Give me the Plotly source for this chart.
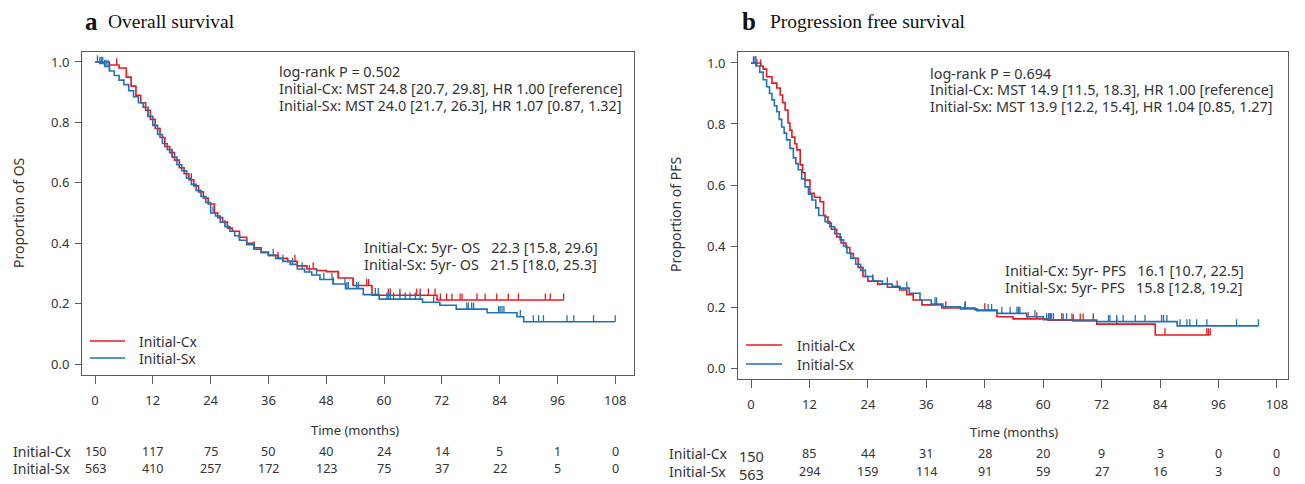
import numpy as np
import plotly.graph_objects as go

W, H = 1305, 484

# ---------------------------------------------------------------
# Datos (curvas de Kaplan-Meier, censuras, riesgo)
# ---------------------------------------------------------------
months = [0, 12, 24, 36, 48, 60, 72, 84, 96, 108]
y_ticks = [0.0, 0.2, 0.4, 0.6, 0.8, 1.0]
groups = ["Initial-Cx", "Initial-Sx"]

# OS - Initial-Cx
os_cx_t = [0, 3, 5, 6.5, 7.5, 8.5, 9.5, 10.5, 11.5, 12.5, 13.5, 14.5, 15.5, 16.5, 17.5,
           18.5, 19.5, 20.5, 21.5, 22.5, 23.5, 24.8, 25.5, 26.5, 27.5, 28.5, 30, 31.5, 33,
           34.5, 36, 38, 40, 42, 44, 46, 48, 50.5, 53.6, 57.5, 71, 97.3]
os_cx_s = [1.0, 0.99, 0.98, 0.95, 0.92, 0.89, 0.865, 0.84, 0.81, 0.78, 0.75, 0.72, 0.70,
           0.675, 0.65, 0.63, 0.61, 0.59, 0.57, 0.55, 0.53, 0.50, 0.485, 0.47, 0.45, 0.44,
           0.42, 0.40, 0.385, 0.37, 0.36, 0.35, 0.34, 0.325, 0.315, 0.31, 0.306, 0.285,
           0.26, 0.228, 0.212, 0.212]
os_cx_cens = [4.5, 20, 33, 38, 41.5, 45.3, 50.5, 53.6, 56.4, 56.8, 60.9, 61.3, 63.3, 66.8,
              67.5, 69.2, 70.6, 71.7, 73.0, 74.1, 75.8, 76.2, 79.3, 81.0, 83.4, 85.8, 87.9,
              93.5, 94.5, 97.3]

# OS - Initial-Sx
os_sx_t = [0, 1, 2, 3, 4, 5, 6, 7, 8, 9, 10, 11, 12, 13, 14, 15, 16, 17, 18, 19, 20, 21,
           22, 23, 24, 25, 26, 27, 28, 29, 30, 31.5, 33, 34.5, 36, 37.5, 39, 40.5, 42, 43.5,
           45, 46.7, 49.4, 52, 55.7, 59, 68, 71.6, 75, 81.4, 87.6, 89, 108]
os_sx_s = [1.0, 0.995, 0.985, 0.97, 0.955, 0.94, 0.925, 0.905, 0.885, 0.865, 0.85, 0.82,
           0.79, 0.76, 0.73, 0.71, 0.685, 0.66, 0.64, 0.615, 0.595, 0.575, 0.555, 0.535,
           0.50, 0.49, 0.47, 0.455, 0.44, 0.425, 0.41, 0.395, 0.38, 0.37, 0.36, 0.35, 0.34,
           0.33, 0.315, 0.305, 0.295, 0.28, 0.265, 0.25, 0.23, 0.215, 0.205, 0.195, 0.182,
           0.17, 0.157, 0.14, 0.14]
os_sx_cens = [0.5, 1, 1.3, 1.6, 2, 2.3, 2.7, 3, 11, 13, 16, 19, 24.5, 27, 30, 33, 37, 39,
              41, 43, 44.5, 46, 47.5, 49.2, 49.5, 51.9, 52.3, 52.6, 54.3, 54.7, 58.2, 58.8,
              60.6, 60.9, 61.3, 62.0, 63.3, 64.4, 65.4, 66.5, 67.5, 70.3, 77.2, 77.5, 78.2,
              78.6, 83.8, 84.1, 84.5, 84.9, 88.3, 91.0, 92.1, 93.1, 98.0, 99.4, 103.5, 108]

# PFS - Initial-Cx
pfs_cx_t = [0, 2, 2.5, 3.2, 4.3, 5.3, 6, 6.5, 7, 7.6, 8, 8.4, 9, 9.4, 10.1, 10.6, 11.1,
            12.1, 13, 14.2, 14.9, 15.3, 15.8, 16.5, 17.6, 18.5, 19.5, 20.3, 21, 22, 23, 24,
            26, 28, 30.5, 32, 33.3, 35.1, 39.2, 46, 50.5, 53.8, 61, 71, 83, 94.3]
pfs_cx_s = [1.0, 0.99, 0.98, 0.955, 0.934, 0.918, 0.895, 0.87, 0.846, 0.803, 0.78, 0.757,
            0.735, 0.715, 0.666, 0.64, 0.616, 0.573, 0.56, 0.545, 0.50, 0.495, 0.475, 0.455,
            0.43, 0.41, 0.395, 0.375, 0.36, 0.33, 0.30, 0.285, 0.275, 0.265, 0.256, 0.24,
            0.223, 0.207, 0.197, 0.19, 0.168, 0.161, 0.157, 0.144, 0.108, 0.108]
pfs_cx_cens = [1, 2, 30, 40, 44, 48, 56.9, 58.7, 61.4, 64.1, 65.9, 67.6, 68.2, 70.3, 75.1,
               85.0, 93.6, 93.9, 94.3]

# PFS - Initial-Sx
pfs_sx_t = [0, 1, 1.8, 2.5, 3.2, 3.8, 4.3, 4.8, 5.3, 5.8, 6.3, 6.8, 7.3, 8, 8.7, 9.2, 9.7,
            10.4, 11.1, 11.8, 12.5, 13.3, 13.9, 15.2, 16.2, 17.2, 18.3, 19, 19.7, 20.5, 21.5,
            22.5, 23.5, 25, 27, 29, 30.6, 32.5, 34.7, 37, 39.4, 43, 46.4, 50.5, 56.6, 60,
            66.1, 71, 87.5, 104.2]
pfs_sx_s = [1.0, 0.99, 0.97, 0.945, 0.922, 0.9, 0.879, 0.86, 0.84, 0.815, 0.79, 0.77, 0.748,
            0.72, 0.689, 0.67, 0.65, 0.62, 0.594, 0.57, 0.551, 0.525, 0.50, 0.48, 0.463, 0.44,
            0.42, 0.40, 0.377, 0.36, 0.34, 0.32, 0.30, 0.285, 0.275, 0.268, 0.262, 0.245,
            0.223, 0.21, 0.201, 0.194, 0.188, 0.179, 0.168, 0.158, 0.154, 0.152, 0.138, 0.138]
pfs_sx_cens = [0.5, 0.8, 1.2, 12.5, 25, 28, 32, 37.8, 38.1, 43.9, 48.7, 49.4, 51.5, 53.2,
               54.6, 54.9, 55.2, 58.3, 60.7, 61.1, 61.4, 61.7, 62.1, 63.8, 64.8, 66.2, 70.3,
               73.4, 73.7, 75.1, 76.4, 78.9, 80.9, 84.3, 84.7, 85.4, 88.1, 89.5, 90.1, 91.5,
               93.6, 99.7, 104.2]

# Números en riesgo
risk_os_cx = [150, 117, 75, 50, 40, 24, 14, 5, 1, 0]
risk_os_sx = [563, 410, 257, 172, 123, 75, 37, 22, 5, 0]
risk_pfs_cx = [150, 85, 44, 31, 28, 20, 9, 3, 0, 0]
risk_pfs_sx = [563, 294, 159, 114, 91, 59, 27, 16, 3, 0]

# Textos de los paneles
os_stats = ["log-rank P = 0.502",
            "Initial-Cx: MST 24.8 [20.7, 29.8], HR 1.00 [reference]",
            "Initial-Sx: MST 24.0 [21.7, 26.3], HR 1.07 [0.87, 1.32]"]
os_5yr = ["Initial-Cx: 5yr- OS   22.3 [15.8, 29.6]",
          "Initial-Sx: 5yr- OS   21.5 [18.0, 25.3]"]
pfs_stats = ["log-rank P = 0.694",
             "Initial-Cx: MST 14.9 [11.5, 18.3], HR 1.00 [reference]",
             "Initial-Sx: MST 13.9 [12.2, 15.4], HR 1.04 [0.85, 1.27]"]
pfs_5yr = ["Initial-Cx: 5yr- PFS   16.1 [10.7, 22.5]",
           "Initial-Sx: 5yr- PFS   15.8 [12.8, 19.2]"]

# ---------------------------------------------------------------
RED = "#E8191E"
BLUE = "#2171B5"
AX = "#5a5a5a"
TXT = "#333333"
SANS = "Noto Sans"
SERIF = "Liberation Serif"


def px(x):
    return x / W


def py(y):
    return 1 - y / H


def step_at(t, s, x):
    i = np.searchsorted(np.asarray(t), x, side="right") - 1
    return float(np.asarray(s)[i])


def censor_segments(t, s, cens, h=0.022):
    xs, ys = [], []
    for c in cens:
        v = step_at(t, s, c)
        xs += [c, c, None]
        ys += [v, v + h, None]
    return xs, ys


fig = go.Figure()

curvas = [
    ("x", "y", os_cx_t, os_cx_s, os_cx_cens, RED),
    ("x", "y", os_sx_t, os_sx_s, os_sx_cens, BLUE),
    ("x2", "y2", pfs_cx_t, pfs_cx_s, pfs_cx_cens, RED),
    ("x2", "y2", pfs_sx_t, pfs_sx_s, pfs_sx_cens, BLUE),
]
for xa, ya, t, s, cens, col in curvas:
    fig.add_trace(go.Scatter(x=t, y=s, mode="lines", line=dict(color=col, width=1.6, shape="hv"),
                             xaxis=xa, yaxis=ya, hoverinfo="skip"))
    cx, cy = censor_segments(t, s, cens)
    fig.add_trace(go.Scatter(x=cx, y=cy, mode="lines", line=dict(color=col, width=1.3),
                             xaxis=xa, yaxis=ya, hoverinfo="skip"))

axis_common = dict(showline=True, mirror=True, linecolor=AX, linewidth=1, ticks="outside",
                   tickcolor=AX, tickwidth=1, showgrid=False, zeroline=False,
                   tickfont=dict(family=SANS, size=13, color=TXT))

fig.update_layout(
    width=W, height=H, margin=dict(l=0, r=0, t=0, b=0),
    paper_bgcolor="white", plot_bgcolor="white", showlegend=False,
    xaxis=dict(domain=[px(82), px(634)], range=[-2.7, 111.9], tickvals=months,
               ticklen=8, ticklabelstandoff=5, anchor="y", **axis_common),
    yaxis=dict(domain=[py(375), py(52)], range=[-0.036, 1.033], tickvals=y_ticks,
               ticktext=[f"{v:.1f}" for v in y_ticks], ticklen=6, ticklabelstandoff=3,
               anchor="x", **axis_common),
    xaxis2=dict(domain=[px(738), px(1288)], range=[-2.67, 110.26], tickvals=months,
                ticklen=8, ticklabelstandoff=5, anchor="y2", **axis_common),
    yaxis2=dict(domain=[py(379), py(52)], range=[-0.036, 1.036], tickvals=y_ticks,
                ticktext=[f"{v:.1f}" for v in y_ticks], ticklen=6, ticklabelstandoff=3,
                anchor="x2", **axis_common),
)

ann = []


def texto(x, y, s, size=13, anchor="left", family=SANS, color=TXT, angle=0, xref="paper"):
    ann.append(dict(x=x, y=y, xref=xref, yref="paper", text=s, showarrow=False,
                    xanchor=anchor, yanchor="middle", textangle=angle,
                    font=dict(family=family, size=size, color=color)))


nb = lambda s: s.replace("   ", "\u00a0\u00a0\u00a0")
STAT = 14.4

# Títulos
texto(px(83), py(21), "<b>a</b>", size=25, family=SERIF, color="#111")
texto(px(106), py(21), "Overall survival", size=19.5, family=SERIF, color="#111")
texto(px(740), py(21), "<b>b</b>", size=25, family=SERIF, color="#111")
texto(px(768), py(21), "Progression free survival", size=19.5, family=SERIF, color="#111")

# Títulos de ejes
texto(px(18), py(213), "Proportion of OS", size=14, anchor="center", angle=-90)
texto(px(675), py(215), "Proportion of PFS", size=14, anchor="center", angle=-90)
texto(px(355), py(430), "Time (months)", size=13, anchor="center")
texto(px(1014), py(432), "Time (months)", size=13, anchor="center")

# Estadísticos
for i, s in enumerate(os_stats):
    texto(px(277), py(72 + 16.5 * i), s, size=STAT)
for i, s in enumerate(os_5yr):
    texto(px(362), py(247 + 17 * i), nb(s), size=STAT)
for i, s in enumerate(pfs_stats):
    texto(px(928), py(73 + 16.5 * i), s, size=STAT)
for i, s in enumerate(pfs_5yr):
    texto(px(1003), py(270 + 17 * i), nb(s), size=STAT)

# Leyendas manuales
shapes = []
for (x0, x1, tx, ys) in [(90, 125, 137, (341, 358)), (746, 782, 795, (345, 364))]:
    for g, col, yy in zip(groups, [RED, BLUE], ys):
        shapes.append(dict(type="line", xref="paper", yref="paper", x0=px(x0), x1=px(x1),
                           y0=py(yy), y1=py(yy), line=dict(color=col, width=1.6)))
        texto(px(tx), py(yy), g, size=14)

# Tablas de números en riesgo
for g, row, yy in zip(groups, [risk_os_cx, risk_os_sx], [451, 468]):
    texto(px(11), py(yy), g, size=14)
    for m, n in zip(months, row):
        texto(m, py(yy), str(n), size=12.5, anchor="center", xref="x")
for g, row, yy in zip(groups, [risk_pfs_cx, risk_pfs_sx], [453, 471]):
    texto(px(667), py(yy), g, size=14)
    for k, (m, n) in enumerate(zip(months, row)):
        if k == 0:
            texto(m, py(yy + 3), str(n), size=14.5, anchor="center", xref="x2")
        else:
            texto(m, py(yy), str(n), size=12.5, anchor="center", xref="x2")

fig.update_layout(annotations=ann, shapes=shapes)

# sin margen del <body> para que la figura ocupe la ventana entera
fig.write_html("out.html", config={"displayModeBar": False},
               post_script="document.body.style.margin='0';")
